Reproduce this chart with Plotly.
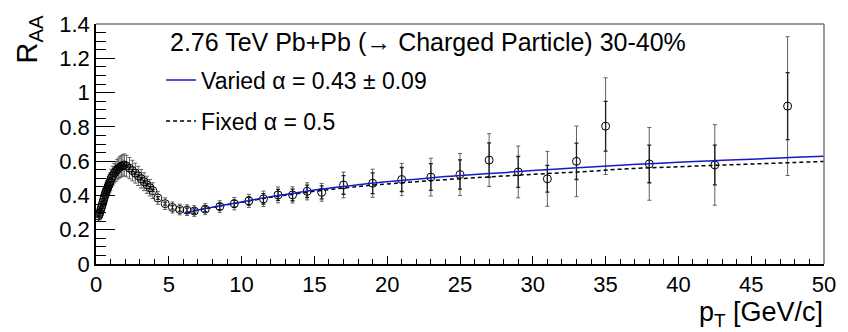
import plotly.graph_objects as go

# ---- data ----
pt = [0.175, 0.225, 0.275, 0.325, 0.375, 0.425, 0.475, 0.525, 0.575, 0.625, 0.675, 0.725, 0.775, 0.825, 0.875, 0.925, 0.975,
      1.05, 1.15, 1.25, 1.35, 1.45, 1.55, 1.65, 1.75, 1.85, 1.95,
      2.1, 2.3, 2.5, 2.7, 2.9, 3.1, 3.3, 3.5, 3.7, 3.9,
      4.25, 4.75, 5.25, 5.75, 6.25, 6.75,
      7.5, 8.5, 9.5, 10.5, 11.5, 12.5, 13.5, 14.5, 15.5,
      17, 19, 21, 23, 25, 27, 29, 31, 33, 35, 38, 42.5, 47.5]
raa = [0.28, 0.29, 0.30, 0.315, 0.33, 0.345, 0.36, 0.375, 0.39, 0.405, 0.42, 0.43, 0.44, 0.45, 0.46, 0.47, 0.48,
       0.50, 0.515, 0.53, 0.54, 0.55, 0.558, 0.565, 0.571, 0.575, 0.578,
       0.571, 0.559, 0.545, 0.530, 0.514, 0.497, 0.480, 0.462, 0.445, 0.428,
       0.385, 0.352, 0.330, 0.318, 0.314, 0.309,
       0.320, 0.335, 0.352, 0.368, 0.380, 0.403, 0.403, 0.424, 0.418,
       0.461, 0.471, 0.493, 0.507, 0.522, 0.606, 0.537, 0.497, 0.599, 0.804, 0.584, 0.578, 0.921]
err_tot = [0.032, 0.032, 0.033, 0.034, 0.036, 0.037, 0.039, 0.040, 0.042, 0.043, 0.045, 0.046, 0.047, 0.048, 0.049, 0.050, 0.051,
           0.053, 0.055, 0.057, 0.058, 0.059, 0.060, 0.061, 0.062, 0.063, 0.064,
           0.063, 0.062, 0.060, 0.058, 0.056, 0.054, 0.052, 0.050, 0.048, 0.046,
           0.037, 0.034, 0.032, 0.031, 0.031, 0.031,
           0.032, 0.034, 0.036, 0.038, 0.045, 0.046, 0.047, 0.050, 0.052,
           0.075, 0.082, 0.094, 0.110, 0.123, 0.154, 0.151, 0.160, 0.206, 0.282, 0.212, 0.235, 0.405]
err_stat = [0.004, 0.004, 0.004, 0.004, 0.004, 0.004, 0.004, 0.004, 0.004, 0.004, 0.004, 0.004, 0.004, 0.004, 0.004, 0.004, 0.004,
            0.005, 0.005, 0.005, 0.005, 0.005, 0.005, 0.005, 0.005, 0.005, 0.005,
            0.006, 0.006, 0.006, 0.006, 0.006, 0.006, 0.006, 0.006, 0.006, 0.006,
            0.008, 0.009, 0.010, 0.011, 0.012, 0.013,
            0.015, 0.018, 0.021, 0.024, 0.030, 0.032, 0.034, 0.036, 0.038,
            0.054, 0.060, 0.070, 0.078, 0.085, 0.100, 0.090, 0.078, 0.106, 0.145, 0.110, 0.116, 0.195]

curve_pt = [6.2, 7, 8, 9, 10, 11, 12, 13, 14, 15, 16, 17, 18, 19, 20, 22, 24, 26, 28, 30,
            32, 34, 36, 38, 40, 42, 44, 46, 48, 50]
varied = [0.298, 0.315, 0.331, 0.347, 0.362, 0.378, 0.393, 0.406, 0.419, 0.431, 0.442, 0.452, 0.462, 0.472, 0.480,
          0.495, 0.510, 0.522, 0.533, 0.545, 0.556, 0.566, 0.576, 0.585, 0.593, 0.601, 0.608, 0.615, 0.622, 0.629]
fixed = [0.298, 0.314, 0.330, 0.345, 0.360, 0.375, 0.389, 0.401, 0.413, 0.424, 0.434, 0.443, 0.452, 0.460, 0.467,
         0.480, 0.492, 0.503, 0.513, 0.523, 0.532, 0.541, 0.553, 0.561, 0.567, 0.574, 0.580, 0.586, 0.592, 0.598]

x_ticks = [0, 5, 10, 15, 20, 25, 30, 35, 40, 45, 50]
y_ticks = [0, 0.2, 0.4, 0.6, 0.8, 1.0, 1.2, 1.4]

header = "2.76 TeV Pb+Pb (\u2192 Charged Particle) 30-40%"

FONT = "Liberation Sans, Arial, Helvetica, sans-serif"

fig = go.Figure()

# total uncertainty (grey)
fig.add_trace(go.Scatter(
    x=pt, y=raa, mode="markers", showlegend=False,
    marker=dict(size=1, color="rgba(0,0,0,0)"),
    error_y=dict(type="data", array=err_tot, color="#606060", thickness=1, width=2),
))
# stat uncertainty (black) + markers
fig.add_trace(go.Scatter(
    x=pt, y=raa, mode="markers", showlegend=False,
    marker=dict(symbol="circle-open", size=8, color="black", line=dict(width=1)),
    error_y=dict(type="data", array=err_stat, color="#202020", thickness=1.3, width=2),
))
fig.add_trace(go.Scatter(
    x=curve_pt, y=fixed, mode="lines", name="Fixed \u03b1 = 0.5",
    line=dict(color="black", width=1.5, dash="4px,3px", shape="spline"),
    legendgroup="b", legendrank=2,
))
fig.add_trace(go.Scatter(
    x=curve_pt, y=varied, mode="lines", name="Varied \u03b1 = 0.43 \u00b1 0.09",
    line=dict(color="#1818c8", width=1.5, shape="spline"),
    legendgroup="a", legendrank=1,
))

fig.update_layout(
    width=848, height=332,
    margin=dict(l=96, r=14, t=16, b=68),
    paper_bgcolor="white", plot_bgcolor="white",
    font=dict(family=FONT, size=22, color="black"),
    showlegend=True,
    legend=dict(
        x=0.0894, y=0.856, xanchor="left", yanchor="top",
        bgcolor="rgba(0,0,0,0)", borderwidth=0,
        font=dict(size=23, family=FONT),
        tracegroupgap=8, itemwidth=30,
    ),
    xaxis=dict(
        range=[0, 50], tickvals=x_ticks, ticks="inside", ticklen=8, tickwidth=1, tickcolor="black",
        minor=dict(dtick=1, ticks="inside", ticklen=5, tickcolor="black"),
        showline=True, linecolor="black", linewidth=1.5, mirror=False,
        showgrid=False, zeroline=False, tickfont=dict(size=22),
    ),
    yaxis=dict(
        range=[0, 1.4], tickvals=y_ticks, ticks="inside", ticklen=19, tickwidth=1, tickcolor="black",
        minor=dict(dtick=0.05, ticks="inside", ticklen=10, tickcolor="black"),
        showline=True, linecolor="black", linewidth=1.5, mirror=False,
        showgrid=False, zeroline=False, tickfont=dict(size=22),
    ),
    shapes=[
        dict(type="line", xref="paper", yref="paper", x0=0, x1=1, y0=1, y1=1, line=dict(color="#777", width=1.5)),
        dict(type="line", xref="paper", yref="paper", x0=1, x1=1, y0=0, y1=1, line=dict(color="#777", width=1.5)),
    ],
    annotations=[
        dict(text=header, xref="paper", yref="paper", x=0.1003, y=0.925,
             xanchor="left", yanchor="middle", showarrow=False, borderpad=0,
             font=dict(size=25, family=FONT)),
        dict(text="R<sub>AA</sub>", xref="paper", yref="paper", x=-0.092, y=1.04,
             xanchor="center", yanchor="top", textangle=-90, showarrow=False, borderpad=0,
             font=dict(size=29, family=FONT)),
        dict(text="p<sub>T</sub> [GeV/c]", xref="paper", yref="paper", x=1.0, y=-0.21,
             xanchor="right", yanchor="middle", showarrow=False, borderpad=0,
             font=dict(size=27, family=FONT)),
    ],
)

fig.write_html("out.html")
